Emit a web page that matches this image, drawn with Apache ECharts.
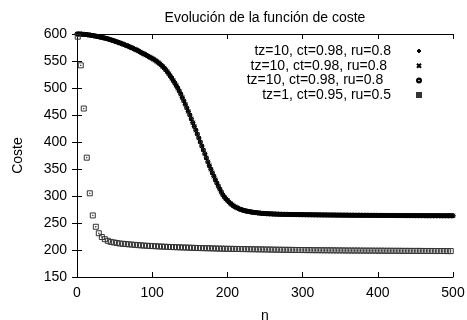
<!DOCTYPE html>
<html>
<head>
<meta charset="utf-8">
<script src="https://cdn.jsdelivr.net/npm/echarts@6/dist/echarts.min.js"></script>
<style>html,body{margin:0;padding:0;background:#fff}#c{width:467px;height:320px}</style>
</head>
<body>
<div id="c"></div>
<script>
const titleText = 'Evolución de la función de coste';
const xName = 'n';
const yName = 'Coste';
const seriesNames = ['tz=10, ct=0.98, ru=0.8', 'tz=10, ct=0.98, ru=0.8 ', 'tz=10, ct=0.98, ru=0.8  ', 'tz=1, ct=0.95, ru=0.5'];

const upperN = [
0,2,4,6,8,10,12,14,16,18,
20,22,24,26,28,30,32,34,36,38,
40,42,44,46,48,50,52,54,56,58,
60,62,64,66,68,70,72,74,76,78,
80,82,84,86,88,90,92,94,96,98,
100,102,104,106,108,110,112,114,116,118,
120,122,124,126,128,130,132,134,136,138,
140,142,144,146,148,150,152,154,156,158,
160,162,164,166,168,170,172,174,176,178,
180,182,184,186,188,190,192,194,196,198,
200,202,204,206,208,210,212,214,216,218,
220,222,224,226,228,230,232,234,236,238,
240,242,244,246,248,250,252,254,256,258,
260,262,264,266,268,270,272,274,276,278,
280,282,284,286,288,290,292,294,296,298,
300,302,304,306,308,310,312,314,316,318,
320,322,324,326,328,330,332,334,336,338,
340,342,344,346,348,350,352,354,356,358,
360,362,364,366,368,370,372,374,376,378,
380,382,384,386,388,390,392,394,396,398,
400,402,404,406,408,410,412,414,416,418,
420,422,424,426,428,430,432,434,436,438,
440,442,444,446,448,450,452,454,456,458,
460,462,464,466,468,470,472,474,476,478,
480,482,484,486,488,490,492,494,496,498,
500];

const upperCost = [
600,600,600,599.8,599.5,599.2,599,598.6,598.2,597.8,
597.3,596.8,596.3,595.7,595.2,594.6,594,593.4,592.7,592,
591.3,590.5,589.6,588.7,587.8,586.9,585.9,584.9,583.9,582.9,
581.8,580.8,579.7,578.6,577.5,576.2,575,573.7,572.4,571.2,
569.8,568.3,566.8,565.3,563.8,562.3,560.8,559.3,557.8,556.3,
554.7,553,551.2,549.2,547.2,545,542.5,539.8,537,533.8,
530.3,526.5,522.4,518.1,513.8,509.3,504.6,499.5,494.2,488.6,
482.4,476.2,469.7,463.3,456.6,450,443,435.9,428.8,421.8,
414.6,407.4,400,392.4,385.3,378.2,370.7,363.3,356.3,349.5,
343,336.5,330.2,324,318,312.5,307,302,298,294.8,
292,289,286.3,284,282,280.2,278.7,277.3,276,275,
274,273.2,272.5,271.9,271.3,270.8,270.3,269.9,269.5,269.1,
268.8,268.5,268.2,267.9,267.7,267.5,267.3,267.1,267,266.9,
266.7,266.6,266.5,266.4,266.3,266.2,266.1,266,266,265.9,
265.9,265.8,265.8,265.7,265.7,265.6,265.6,265.5,265.5,265.4,
265.4,265.4,265.3,265.3,265.2,265.2,265.2,265.1,265.1,265.1,
265,265,265,264.9,264.9,264.9,264.8,264.8,264.8,264.8,
264.7,264.7,264.7,264.6,264.6,264.6,264.6,264.5,264.5,264.5,
264.5,264.4,264.4,264.4,264.4,264.3,264.3,264.3,264.3,264.3,
264.2,264.2,264.2,264.2,264.2,264.1,264.1,264.1,264.1,264.1,
264.0,264.0,264.0,264.0,264.0,264.0,263.9,263.9,263.9,263.9,
263.9,263.9,263.8,263.8,263.8,263.8,263.8,263.8,263.7,263.7,
263.7,263.7,263.7,263.7,263.7,263.6,263.6,263.6,263.6,263.6,
263.6,263.6,263.5,263.5,263.5,263.5,263.5,263.5,263.5,263.5,
263.5,263.4,263.4,263.4,263.4,263.4,263.4,263.4,263.4,263.4,
263.4];

const lowerN = [
1,5,9,13,17,21,25,29,33,37,
41,45,49,53,57,61,65,69,73,77,
81,85,89,93,97,101,105,109,113,117,
121,125,129,133,137,141,145,149,153,157,
161,165,169,173,177,181,185,189,193,197,
201,205,209,213,217,221,225,229,233,237,
241,245,249,253,257,261,265,269,273,277,
281,285,289,293,297,301,305,309,313,317,
321,325,329,333,337,341,345,349,353,357,
361,365,369,373,377,381,385,389,393,397,
401,405,409,413,417,421,425,429,433,437,
441,445,449,453,457,461,465,469,473,477,
481,485,489,493,497];

const lowerCost = [
595,542,462,371,305,264,243,231,224,220,
217,215,214,213,212,211.5,211,210.5,210,209.5,
209,208.6,208.2,207.8,207.5,207.2,206.9,206.6,206.3,206,
205.8,205.5,205.3,205.1,204.9,204.7,204.5,204.3,204.1,203.9,
203.7,203.5,203.4,203.2,203.1,202.9,202.8,202.6,202.5,202.3,
202.2,202.1,202.0,201.9,201.8,201.7,201.6,201.5,201.4,201.3,
201.2,201.1,201.0,200.9,200.8,200.7,200.6,200.5,200.4,200.3,
200.3,200.2,200.1,200.0,200.0,199.9,199.8,199.8,199.7,199.6,
199.6,199.5,199.5,199.4,199.4,199.3,199.3,199.2,199.2,199.1,
199.1,199.0,199.0,199.0,198.9,198.9,198.8,198.8,198.8,198.7,
198.7,198.7,198.6,198.6,198.6,198.5,198.5,198.5,198.4,198.4,
198.4,198.3,198.3,198.3,198.3,198.2,198.2,198.2,198.2,198.1,
198.1,198.1,198.1,198.0,198.0];

const FONT = 'Liberation Sans';
const pairs = (xs, ys) => xs.map((n, i) => [n, ys[i]]);

const symPlus = 'path://M5,0L5,10M0,5L10,5';
const symCross = 'path://M0,0L10,10M10,0L0,10';
const symCircle = 'path://M10,5A5,5 0 1 1 0,5A5,5 0 1 1 10,5Z M5.6,5A0.6,0.6 0 1 1 4.4,5A0.6,0.6 0 1 1 5.6,5Z';
const symSquare = 'path://M0,0L10,0L10,10L0,10Z M4.4,4.4L5.6,4.4L5.6,5.6L4.4,5.6Z';

function mk(name, xs, ys, sym, size, col) {
  return {
    name, type: 'scatter', data: pairs(xs, ys), symbol: sym, symbolSize: size,
    itemStyle: { color: 'transparent', borderColor: col, borderWidth: 1, opacity: 1 },
    emphasis: { disabled: true }, animation: false
  };
}

const axisCommon = {
  axisLine: { show: true, lineStyle: { color: '#000', width: 1 } },
  axisTick: { show: true, inside: true, length: 5, lineStyle: { color: '#000' } },
  splitLine: { show: false }
};

const chart = echarts.init(document.getElementById('c'), null, { renderer: 'canvas' });
chart.setOption({
  backgroundColor: '#fff',
  animation: false,
  textStyle: { fontFamily: FONT },
  title: {
    text: titleText, left: 260, top: 6, textAlign: 'center',
    textStyle: { fontFamily: FONT, fontSize: 14, fontWeight: 'normal', color: '#000' }
  },
  grid: { left: 77, right: 14, top: 34, bottom: 43, containLabel: false, outerBoundsMode: 'none' },
  legend: {
    orient: 'vertical', right: 40, top: 39, align: 'right',
    itemWidth: 46, itemHeight: 4, itemGap: 0.7,
    selectedMode: false,
    textStyle: { fontFamily: FONT, fontSize: 14, color: '#000', lineHeight: 14 },
    data: seriesNames
  },
  xAxis: [
    Object.assign({
      type: 'value', min: 0, max: 500, interval: 100, position: 'bottom',
      name: xName, nameLocation: 'middle', nameGap: 32,
      nameTextStyle: { fontFamily: FONT, fontSize: 14, color: '#000' },
      axisLabel: { fontFamily: FONT, fontSize: 14, color: '#000', margin: 9 }
    }, axisCommon),
    Object.assign({
      type: 'value', min: 0, max: 500, interval: 100, position: 'top',
      axisLabel: { show: false }
    }, axisCommon)
  ],
  yAxis: [
    Object.assign({
      type: 'value', min: 150, max: 600, interval: 50, position: 'left',
      name: yName, nameLocation: 'middle', nameGap: 52, nameRotate: 90,
      nameTextStyle: { fontFamily: FONT, fontSize: 14, color: '#000' },
      axisLabel: { fontFamily: FONT, fontSize: 14, color: '#000', margin: 10 }
    }, axisCommon),
    Object.assign({
      type: 'value', min: 150, max: 600, interval: 50, position: 'right',
      axisLabel: { show: false }
    }, axisCommon)
  ],
  series: [
    mk(seriesNames[0], upperN, upperCost, symPlus, 5, '#000'),
    mk(seriesNames[1], upperN, upperCost, symCross, 4, '#000'),
    mk(seriesNames[2], upperN, upperCost, symCircle, 4, '#000'),
    mk(seriesNames[3], lowerN, lowerCost, symSquare, 5, '#333')
  ]
});
</script>
</body>
</html>
